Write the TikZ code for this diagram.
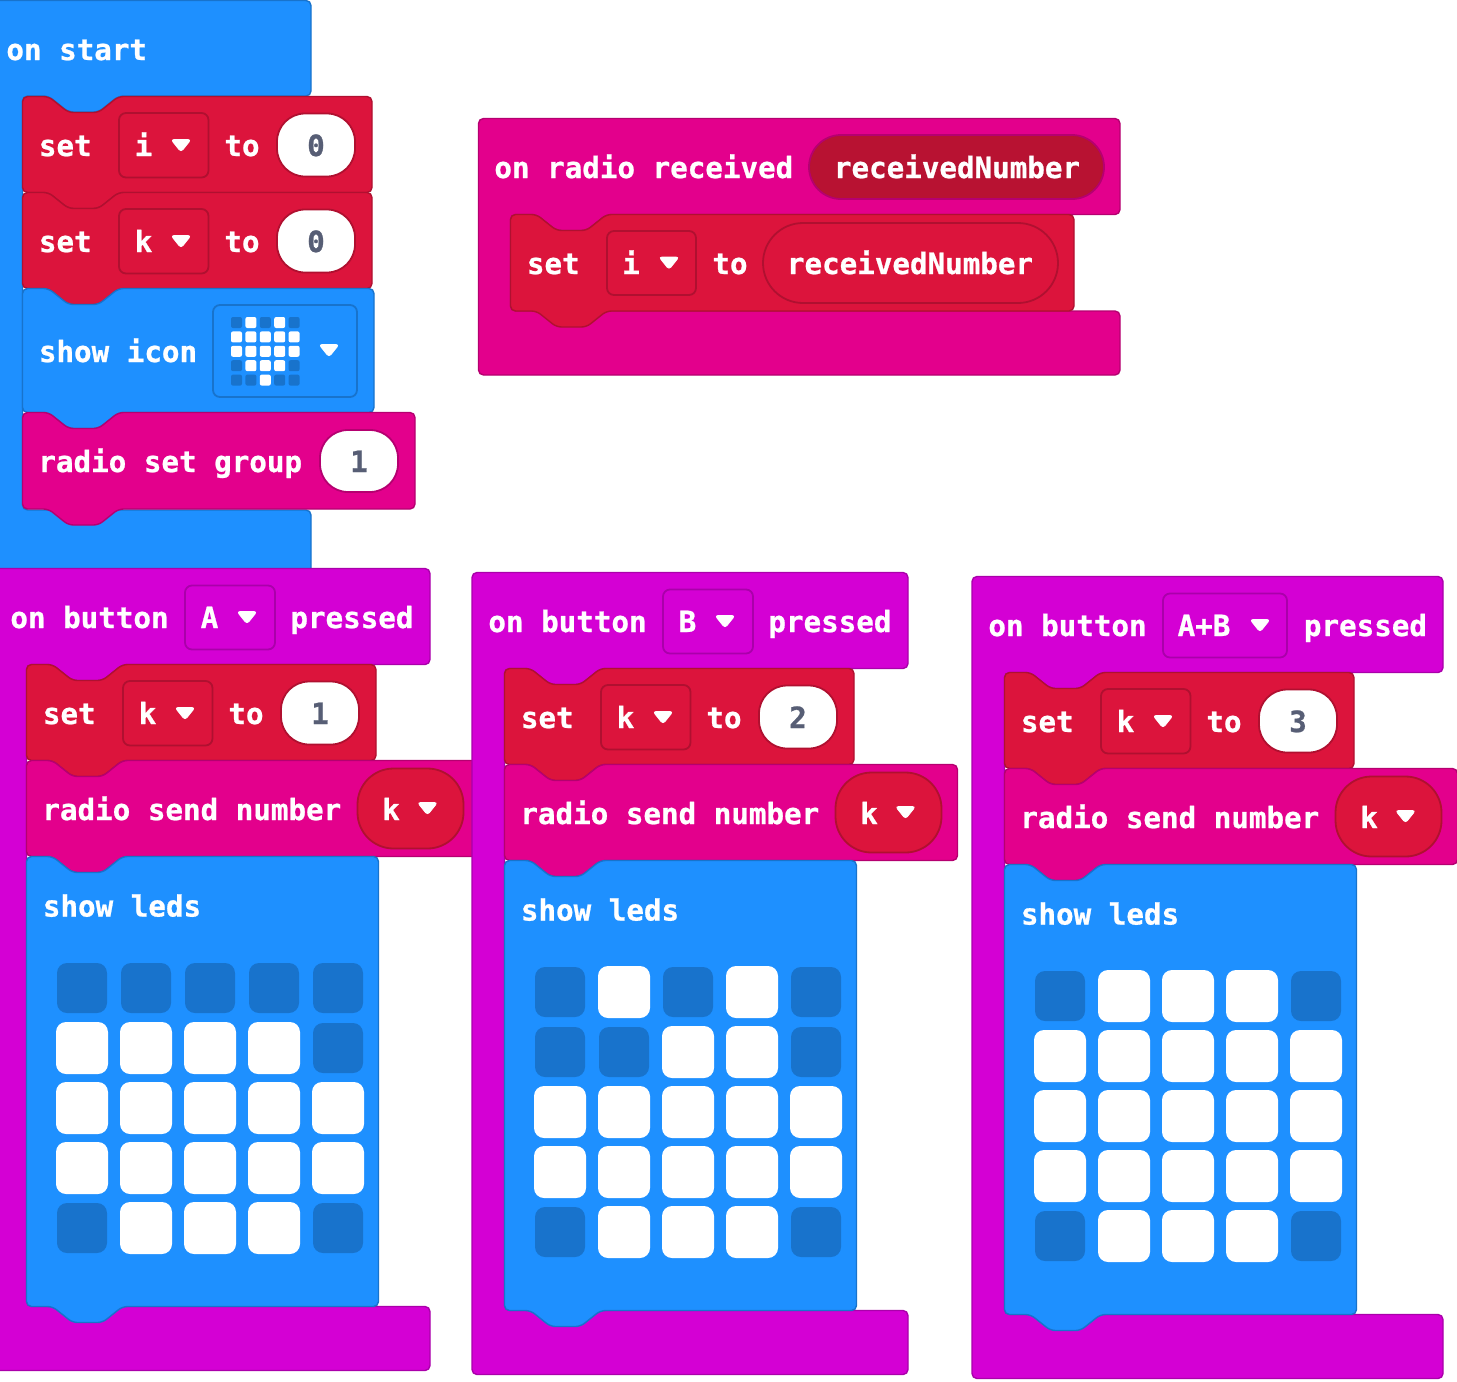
\documentclass[tikz,border=0pt]{standalone}
\usepackage{fontspec}
\newfontfamily\blockfont{DejaVu Sans Mono}[BoldFont={DejaVu Sans Mono Bold},BoldFeatures={FakeBold=0.8}]
\usetikzlibrary{positioning}
\definecolor{blockBasic}{HTML}{1E90FF}
\definecolor{blockBasicEdge}{HTML}{1873CC}
\definecolor{blockVar}{HTML}{DC143C}
\definecolor{blockVarEdge}{HTML}{B01030}
\definecolor{blockVarDark}{HTML}{B81232}
\definecolor{blockRadio}{HTML}{E3008C}
\definecolor{blockRadioEdge}{HTML}{B50070}
\definecolor{blockInput}{HTML}{D400D4}
\definecolor{blockInputEdge}{HTML}{AA00AA}
\definecolor{blockNumber}{HTML}{575E75}
\tikzset{
  % the colour of a block is given by one of these
  basicfill/.style={fill=blockBasic, draw=blockBasicEdge, line width=0.7pt},
  varfill/.style={fill=blockVar, draw=blockVarEdge, line width=0.7pt},
  radiofill/.style={fill=blockRadio, draw=blockRadioEdge, line width=0.7pt},
  inputfill/.style={fill=blockInput, draw=blockInputEdge, line width=0.7pt},
  % fields that sit on a block
  dropfield/.style={draw=#1, line width=0.9pt, rounded corners=3.5pt},
  numberpill/.style={fill=white, draw=#1, line width=0.9pt, rounded corners=14pt},
  varpill/.style={fill=blockVar, draw=blockVarEdge, line width=0.9pt, rounded corners=18pt},
  % text
  word/.style={font=\fontsize{14.6}{16}\selectfont\blockfont\bfseries, text=white, inner sep=0pt},
  wordleft/.style={word, anchor=base west},
  wordmid/.style={word, anchor=base},
  numword/.style={wordmid, text=blockNumber},
  % the little triangle of a dropdown
  caret/.style={fill=white, draw=white, line width=0.4pt, rounded corners=1.5pt},
  % leds
  ledoff/.style={fill=blockBasicEdge, rounded corners=5pt},
  ledon/.style={fill=white, rounded corners=5pt},
  miniled/.style={rounded corners=1pt},
}

% statement block: x0, y0, x1, y1, style
\newcommand{\stackblock}[5]{
  \draw[#5, rounded corners=2.5pt] (#1,#2) -- ({#1+26},#2) -- ({#1+46},{#2+16})
    -- ({#1+76},{#2+16}) -- ({#1+96},#2) -- (#3,#2) -- (#3,#4) -- ({#1+96},#4)
    -- ({#1+76},{#4+16}) -- ({#1+46},{#4+16}) -- ({#1+26},#4) -- (#1,#4) -- cycle;
}
% event block: left, top, right, header bottom, arm x, arm bottom, end, style
\newcommand{\hatblock}[8]{
  \draw[#8, rounded corners=2.5pt] (#1,#2) -- (#3,#2) -- (#3,#4) -- ({#5+96},#4)
    -- ({#5+76},{#4+16}) -- ({#5+46},{#4+16}) -- ({#5+26},#4) -- (#5,#4) -- (#5,#6)
    -- (#3,#6) -- (#3,#7) -- (#1,#7) -- cycle;
}
\newcommand{\dropcaret}[2]{
  \path[caret] ({#1-10},{#2-6}) -- ({#1+10},{#2-6}) -- (#1,{#2+6.5}) -- cycle;
}
% set block drawn at the local origin: name, variable, value
\newcommand{\setblock}[3]{
  \stackblock{0}{0}{349.5}{96}{varfill}
  \node[wordleft] (#1-set) at (16,59.5) {set};
  \draw[dropfield=blockVarEdge] (96.5,16.5) rectangle (186,81);
  \node[wordmid] (#1-var) at (121,59.5) {#2};
  \dropcaret{158.5}{49}
  \node[wordmid] (#1-to) at (219.5,59.5) {to};
  \draw[numberpill=blockVarEdge] (254.5,17) rectangle (332.5,80);
  \node[numword] (#1-val) at (293.5,59.5) {#3};
}
% rows of 0 and 1, one big led each
\newcommand{\ledgrid}[1]{
  \foreach \ledrow [count=\j from 0] in {#1} {
    \foreach \ledstate [count=\i from 0] in \ledrow {
      \ifnum\ledstate=1
        \path[ledon] ({55.5+64*\i-26},{131.5+60*\j-26}) rectangle ++(52,52);
      \else
        \path[ledoff] ({55.5+64*\i-25},{131.5+60*\j-25}) rectangle ++(50,50);
      \fi
    }
  }
}
% button column: name, letter, header right, field right, letter x, caret x, pressed x, value, leds
\newcommand{\buttoncolumn}[9]{
  \hatblock{-5.5}{0}{#3}{96}{27}{738}{802}{inputfill}
  \node[wordleft] (#1-on) at (10.5,59.5) {on button};
  \draw[dropfield=blockInputEdge] (185.5,17) rectangle (#4,81);
  \node[wordmid] (#1-letter) at (#5,59.5) {#2};
  \dropcaret{#6}{49}
  \node[wordleft] (#1-pressed) at (#7,59.5) {pressed};
  \begin{scope}[shift={(27,96)}]
    \setblock{#1-setk}{k}{#8}
  \end{scope}
  \begin{scope}[shift={(27,192)}]
    \stackblock{0}{0}{453}{96}{radiofill}
    \node[wordleft] (#1-send) at (15.5,59.5) {radio send number};
    \draw[varpill] (331,8) rectangle (437,88);
    \node[wordmid] (#1-sendvar) at (364.5,59.5) {k};
    \dropcaret{401}{48}
  \end{scope}
  \begin{scope}[shift={(27,288)}]
    \stackblock{0}{0}{352}{450}{basicfill}
    \node[wordleft] (#1-leds) at (16,60) {show leds};
    \ledgrid{#9}
  \end{scope}
}

\begin{document}
\begin{tikzpicture}[x=0.5pt, y=-0.5pt]
\useasboundingbox (0,0) rectangle (1457,1382);

% ===========================================================================
% TOP LEFT: on start
% ===========================================================================
\hatblock{-6}{0.5}{311}{96}{22.5}{510}{580}{basicfill}
\node[wordleft] (start) at (6,60) {on start};

\begin{scope}[shift={(22.5,96.5)}]
  \setblock{seti}{i}{0}
\end{scope}
\begin{scope}[shift={(22.5,192.5)}]
  \setblock{setk}{k}{0}
\end{scope}

\stackblock{22.5}{288.5}{374}{412.5}{basicfill}
\node[wordleft] (icon) at (38.5,362) {show icon};
\draw[dropfield=blockBasicEdge] (213,305) rectangle (357,397);
\foreach \ledrow [count=\j from 0] in {{0,1,0,1,0},{1,1,1,1,1},{1,1,1,1,1},{0,1,1,1,0},{0,0,1,0,0}} {
  \foreach \ledstate [count=\i from 0] in \ledrow {
    \ifnum\ledstate=1
      \path[miniled, fill=white] ({231+14.4*\i},{317+14.4*\j}) rectangle ++(11,11);
    \else
      \path[miniled, fill=blockBasicEdge] ({231+14.4*\i},{317+14.4*\j}) rectangle ++(11,11);
    \fi
  }
}
\dropcaret{329}{350.5}

\stackblock{22.5}{412.5}{415}{509}{radiofill}
\node[wordleft] (group) at (38,472) {radio set group};
\draw[numberpill=blockRadioEdge] (320,430) rectangle (398,492);
\node[numword] (groupval) at (359,472) {1};

% ===========================================================================
% TOP RIGHT: on radio received
% ===========================================================================
\hatblock{478.5}{118.5}{1120}{214.5}{510.5}{311}{375}{radiofill}
\node[wordleft] (received) at (494,178) {on radio received};
\draw[fill=blockVarDark, draw=blockRadioEdge, line width=0.9pt, rounded corners=16pt] (809,135) rectangle (1104,199);
\node[wordmid] (recvname) at (957,178) {receivedNumber};

\stackblock{510.5}{214.5}{1074}{311}{varfill}
\node[wordleft] (recvset) at (526.5,274) {set};
\draw[dropfield=blockVarEdge] (607,231) rectangle (696,295);
\node[wordmid] (recvvar) at (631,274) {i};
\dropcaret{669}{263}
\node[wordmid] (recvto) at (730,274) {to};
\draw[varpill, rounded corners=20pt] (763,223) rectangle (1058,303);
\node[wordmid] (recvval) at (910,274) {receivedNumber};

% ===========================================================================
% BOTTOM: the three buttons
% ===========================================================================
\begin{scope}[shift={(-0.5,568.5)}]
  \buttoncolumn{btna}{A}{430.5}{275.5}{210}{247.5}{290.5}{1}
    {{0,0,0,0,0},{1,1,1,1,0},{1,1,1,1,1},{1,1,1,1,1},{0,1,1,1,0}}
\end{scope}
\begin{scope}[shift={(477.5,572.5)}]
  \buttoncolumn{btnb}{B}{430.5}{275.5}{210}{247.5}{290.5}{2}
    {{0,1,0,1,0},{0,0,1,1,0},{1,1,1,1,1},{1,1,1,1,1},{0,1,1,1,0}}
\end{scope}
\begin{scope}[shift={(977.5,576.5)}]
  \buttoncolumn{btnab}{A+B}{465.5}{309.5}{226.5}{282.5}{326}{3}
    {{0,1,1,1,0},{1,1,1,1,1},{1,1,1,1,1},{1,1,1,1,1},{0,1,1,1,0}}
\end{scope}

\end{tikzpicture}
\end{document}
